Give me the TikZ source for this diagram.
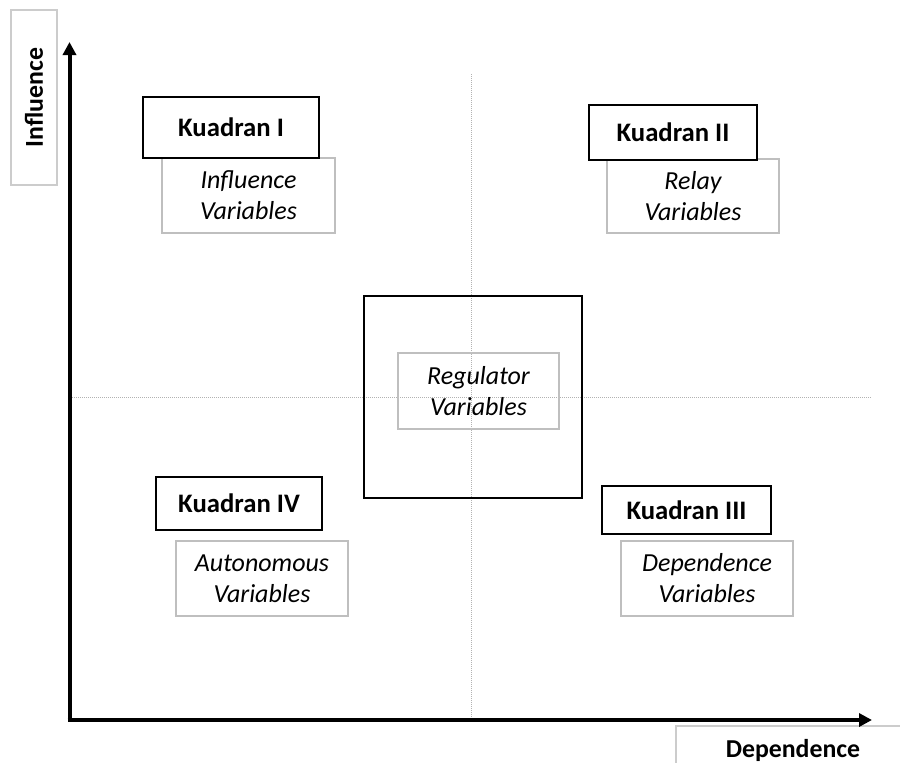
\documentclass[tikz,border=0pt]{standalone}
\usepackage{fontspec}
\setmainfont{Carlito}
\usetikzlibrary{arrows.meta}
\begin{document}
\begin{tikzpicture}[x=1pt,y=-1pt,
  font=\fontsize{25}{30}\selectfont,
  kbox/.style={draw=black,line width=1.5pt,font=\fontsize{26.7}{32}\selectfont\bfseries,inner sep=0pt,anchor=center},
  vbox/.style={draw=gray!50,line width=2pt,font=\fontsize{26}{31}\selectfont\itshape,align=center,inner sep=0pt,anchor=center},
  lbox/.style={draw=gray!40,line width=2pt,font=\fontsize{25.8}{31}\selectfont\bfseries,inner sep=0pt,anchor=center},
  axis/.style={line width=4pt,-{Triangle[length=13pt,width=13pt]}},
  guide/.style={gray!60,line width=1pt,densely dotted}]
\useasboundingbox (0,0) rectangle (900,763);
% axis labels
\node[lbox,rotate=90,minimum width=175pt,minimum height=46pt] (ylab) at (34,97.5) {Influence};
\node[lbox,minimum width=234pt,minimum height=48pt] (xlab) at (793,750) {Dependence};
% guides
\coordinate (vt) at (471.5,74);
\coordinate (vb) at (471.5,720);
\coordinate (hl) at (70,397.5);
\coordinate (hr) at (872,397.5);
\draw[guide] (vt) -- (vb);
\draw[guide] (hl) -- (hr);
% axes
\coordinate (o) at (69.5,720);
\coordinate (yt) at (69.5,42);
\coordinate (xt) at (872,720);
\draw[axis] ([yshift=2pt]o) -- (yt);
\draw[axis] ([xshift=-2pt]o) -- (xt);
% centre square
\node[draw=black,line width=1.5pt,minimum width=218pt,minimum height=202pt,inner sep=0pt] (sq) at (473,397) {};
\node[vbox,minimum width=161pt,minimum height=76pt] (reg) at (478.5,391) {Regulator\\Variables};
% quadrant I
\node[vbox,minimum width=173pt,minimum height=75pt] (v1) at (248.5,195.5) {Influence\\Variables};
\node[kbox,fill=white,minimum width=176pt,minimum height=61pt] (k1) at (231,127.5) {Kuadran I};
% quadrant II
\node[vbox,minimum width=172pt,minimum height=74pt] (v2) at (693,196) {Relay\\Variables};
\node[kbox,fill=white,minimum width=168pt,minimum height=55pt] (k2) at (673,132.5) {Kuadran II};
% quadrant IV
\node[kbox,minimum width=166pt,minimum height=53pt] (k4) at (239,503.5) {Kuadran IV};
\node[vbox,minimum width=172pt,minimum height=75pt] (v4) at (262,578.5) {Autonomous\\Variables};
% quadrant III
\node[kbox,minimum width=169pt,minimum height=48pt] (k3) at (686.5,510) {Kuadran III};
\node[vbox,minimum width=172pt,minimum height=75pt] (v3) at (707,578.5) {Dependence\\Variables};
\end{tikzpicture}
\end{document}
